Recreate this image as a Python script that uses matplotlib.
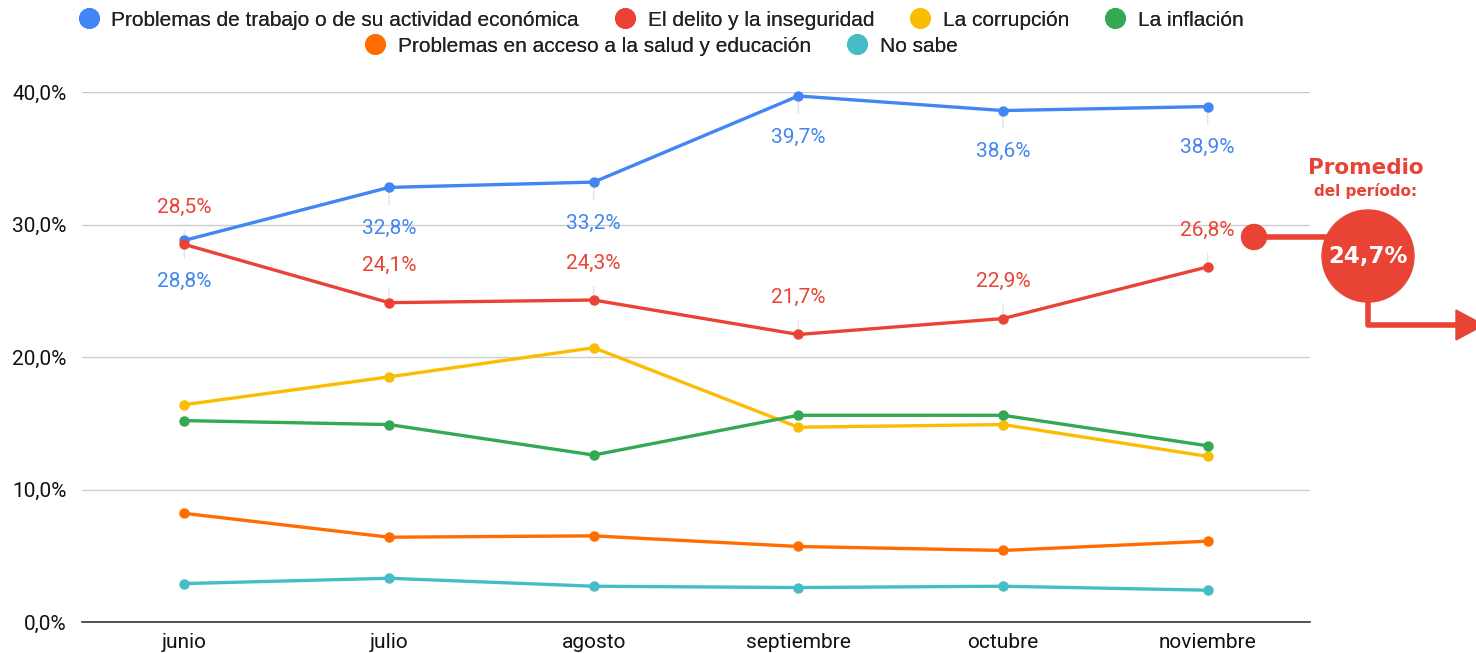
import matplotlib
matplotlib.use("Agg")
import matplotlib.pyplot as plt
from matplotlib.patches import Circle, Polygon
from matplotlib.lines import Line2D

meses = ["junio", "julio", "agosto", "septiembre", "octubre", "noviembre"]

trabajo = [28.8, 32.8, 33.2, 39.7, 38.6, 38.9]
delito = [28.5, 24.1, 24.3, 21.7, 22.9, 26.8]
corrupcion = [16.4, 18.5, 20.7, 14.7, 14.9, 12.5]
inflacion = [15.2, 14.9, 12.6, 15.6, 15.6, 13.3]
salud = [8.2, 6.4, 6.5, 5.7, 5.4, 6.1]
no_sabe = [2.9, 3.3, 2.7, 2.6, 2.7, 2.4]

nombres = ["Problemas de trabajo o de su actividad económica",
           "El delito y la inseguridad", "La corrupción", "La inflación",
           "Problemas en acceso a la salud y educación", "No sabe"]
colores = ["#4285F4", "#EA4335", "#FBBC04", "#34A853", "#FF6D01", "#46BDC6"]
series = [trabajo, delito, corrupcion, inflacion, salud, no_sabe]

ROJO = "#E94335"
W, H = 1476, 653

fig = plt.figure(figsize=(W / 100, H / 100), dpi=100)
ax = fig.add_axes([82 / W, 1 - 622 / H, (1310 - 82) / W, (622 - 92) / H])

x = list(range(len(meses)))
for vals, c in zip(series, colores):
    ax.plot(x, vals, color=c, lw=2.4, marker="o", ms=6.5, clip_on=False, zorder=3)

def fmt(v):
    return f"{v:.1f}".replace(".", ",") + "%"

# etiquetas de datos (trabajo abajo, delito arriba)
for i, v in enumerate(trabajo):
    ax.annotate(fmt(v), (i, v), xytext=(0, -29.5), textcoords="offset points",
                ha="center", va="center", color=colores[0], fontsize=15,
                family="Roboto",
                arrowprops=dict(arrowstyle="-", color="#e3e3e3", lw=1,
                                shrinkA=8, shrinkB=0), zorder=2)
for i, v in enumerate(delito):
    ax.annotate(fmt(v), (i, v), xytext=(0, 26.5), textcoords="offset points",
                ha="center", va="center", color=colores[1], fontsize=15,
                family="Roboto",
                arrowprops=dict(arrowstyle="-", color="#e3e3e3", lw=1,
                                shrinkA=8, shrinkB=0), zorder=2)

ax.set_xlim(-0.5, len(meses) - 0.5)
ax.set_ylim(0, 40)
ax.set_yticks([0, 10, 20, 30, 40])
ax.set_yticklabels([fmt(t) for t in [0, 10, 20, 30, 40]], family="Roboto",
                   fontsize=15, color="#111111")
ax.set_xticks(x)
ax.set_xticklabels(meses, family="Roboto", fontsize=15, color="#111111")
ax.tick_params(length=0, pad=11)
ax.tick_params(axis="x", pad=8)
ax.yaxis.grid(True, color="#cccccc", lw=1)
ax.set_axisbelow(True)
for s in ["top", "right", "left"]:
    ax.spines[s].set_visible(False)
ax.spines["bottom"].set_color("#333333")
ax.spines["bottom"].set_linewidth(1.2)

# leyenda en dos filas centradas
def handle(c):
    return Line2D([], [], marker="o", ls="", color=c, ms=14)

filas = [(0, 4, 20), (4, 6, 46)]
for a, b, yy in filas:
    leg = fig.legend([handle(c) for c in colores[a:b]], nombres[a:b],
                     loc="center", bbox_to_anchor=(661 / W, 1 - yy / H),
                     ncol=b - a, frameon=False, handlelength=1.0,
                     handletextpad=0.6, columnspacing=1.7,
                     prop={"family": "Liberation Sans", "size": 15})
    for t in leg.get_texts():
        t.set_color("#222222")
    fig.add_artist(leg)

# anotación del promedio
tr = fig.dpi_scale_trans
def p(px, py):
    return (px / 100, (H - py) / 100)

promedio = sum(delito) / len(delito)
cx, cy, r = 1368, 256, 46
fig.add_artist(Line2D([p(1254, 0)[0], p(cx, 0)[0]], [p(0, 237)[1]] * 2,
                      transform=tr, color=ROJO, lw=4))
fig.add_artist(Circle(p(1254, 237), 12.5 / 100, transform=tr, color=ROJO))
fig.add_artist(Line2D([p(cx, 0)[0], p(cx, 0)[0], p(1460, 0)[0]],
                      [p(0, cy)[1], p(0, 325)[1], p(0, 325)[1]],
                      transform=tr, color=ROJO, lw=4))
fig.add_artist(Polygon([p(1456, 310), p(1456, 340), p(1484, 325)],
                       closed=True, transform=tr, color=ROJO))
fig.add_artist(Circle(p(cx, cy), r / 100, transform=tr, color=ROJO))
fig.text(*p(cx, cy), fmt(promedio), transform=tr, ha="center", va="center",
         color="white", fontsize=16.5, fontweight="bold", family="DejaVu Sans")
fig.text(*p(1366, 168), "Promedio", transform=tr, ha="center", va="center",
         color=ROJO, fontsize=15.5, fontweight="bold", family="DejaVu Sans")
fig.text(*p(1366, 191), "del período:", transform=tr, ha="center", va="center",
         color=ROJO, fontsize=11, fontweight="bold", family="DejaVu Sans")

fig.savefig("out.png", dpi=100)
